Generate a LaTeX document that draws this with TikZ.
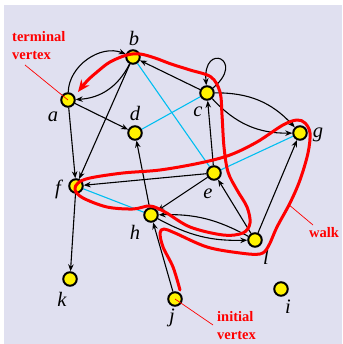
\documentclass[tikz,border=0pt]{standalone}
\usepackage{fontspec}
\setmainfont{Liberation Serif}
\usetikzlibrary{arrows.meta}
\definecolor{bgc}{RGB}{224,224,240}
\definecolor{cyanl}{RGB}{0,190,240}
\pgfdeclarelayer{bg}
\pgfdeclarelayer{edges}
\pgfdeclarelayer{top}
\pgfsetlayers{bg,edges,main,top}
\begin{document}
\begin{tikzpicture}[x=1pt,y=1pt,
  vtx/.style={circle,draw=black,fill=yellow,line width=2pt,minimum size=13.5pt,inner sep=0pt},
  lbl/.style={font=\fontsize{20.5}{20.5}\selectfont\itshape,inner sep=0pt},
  arr/.style={draw=black,line width=1.1pt,-{Stealth[length=7pt,width=5.5pt]}},
  und/.style={draw=cyanl,line width=1.1pt},
  walkline/.style={draw=red,line width=3pt,line cap=round,line join=round},
  note/.style={text=red,font=\fontsize{14.5}{14.5}\selectfont\bfseries,inner sep=0pt,anchor=base west},
  ptr/.style={draw=red,line width=0.7pt}]
\useasboundingbox (0,0) rectangle (342,344);
\begin{pgfonlayer}{bg}
\fill[bgc] (4,0) rectangle (342,339);
\end{pgfonlayer}
% vertices
\node[vtx] (a) at (68,244) {};
\node[vtx] (b) at (133,287) {};
\node[vtx] (c) at (207,251) {};
\node[vtx] (d) at (135,211) {};
\node[vtx] (e) at (214,171) {};
\node[vtx] (f) at (76,158) {};
\node[vtx] (g) at (300,211) {};
\node[vtx] (h) at (151,129) {};
\node[vtx] (i) at (281,55) {};
\node[vtx] (j) at (175,45) {};
\node[vtx] (k) at (70,65) {};
\node[vtx] (l) at (255,104) {};
% labels
\node[lbl] (la) at (53,227) {a};
\node[lbl] (lb) at (134,306) {b};
\node[lbl] (lc) at (198,232) {c};
\node[lbl] (ld) at (135,231) {d};
\node[lbl] (le) at (208,150) {e};
\node[lbl] (lf) at (58,155) {f};
\node[lbl] (lg) at (318,209) {g};
\node[lbl] (lh) at (135,112) {h};
\node[lbl] (li) at (288,37) {i};
\node[lbl] (lj) at (172,26) {j};
\node[lbl] (lk) at (62,45) {k};
\node[lbl] (ll) at (266,87) {l};
% notes
\node[note] (t1) at (12,302) {terminal};
\node[note] (t2) at (12,284) {vertex};
\node[note] (w1) at (309,106) {walk};
\node[note] (n1) at (217,22) {initial};
\node[note] (n2) at (217,5) {vertex};
\coordinate (tp) at (25,279);
\coordinate (wp1) at (288,140);
\coordinate (wp2) at (313,119);
\coordinate (np) at (213,19);
\begin{pgfonlayer}{edges}
\draw[und] (b) -- (e);
\draw[und] (d) -- (c);
\draw[und] (f) -- (h);
\draw[und] (e) -- (g);
\draw[arr] (a) to[bend left=55] (b);
\draw[arr] (b) to[bend left=30] (a);
\draw[arr] (a) -- (d);
\draw[arr] (a) -- (f);
\draw[arr] (b) -- (f);
\draw[arr] (c) -- (b);
\draw[arr] (c.40) to[out=40,in=95,distance=44pt] (c.95);
\draw[arr] (c) to[bend left=24] (g);
\draw[arr] (c) to[bend right=24] (g);
\draw[arr] (e) -- (c);
\draw[arr] (e) -- (f);
\draw[arr] (e) -- (h);
\draw[arr] (h) -- (d);
\draw[arr] (l) -- (e);
\draw[arr] (l) -- (g);
\draw[arr] (l) to[bend right=15] (h);
\draw[arr] (h) to[bend right=15] (l);
\draw[arr] (j) -- (h);
\draw[arr] (f) -- (k);
\end{pgfonlayer}
\begin{pgfonlayer}{top}
\draw[walkline,-{Stealth[length=12pt,width=10pt]}] plot[smooth,tension=0.55] coordinates {
(180,54) (173,77) (163,97) (160,111) (164,115) (175,111) (207,97) (240,91)
(260,90) (268,97) (277,117) (290,141) (300,164) (308,191) (310,211) (305,221)
(297,224) (283,219) (257,202) (230,189) (200,181) (160,174) (123,171) (90,166)
(78,161) (75,154) (83,146) (107,137) (133,135) (150,138) (165,132) (190,117)
(223,109) (243,111) (250,121) (247,137) (237,154) (228,172) (224,197) (222,229)
(220,252) (211,267) (190,274) (171,280) (155,286) (140,290) (127,289) (110,282)
(97,272) (87,263) (78,252)};
\draw[ptr] (tp) -- (a.center);
\draw[ptr] (wp1) -- (wp2);
\draw[ptr] (j.center) -- (np);
\end{pgfonlayer}
\end{tikzpicture}
\end{document}
